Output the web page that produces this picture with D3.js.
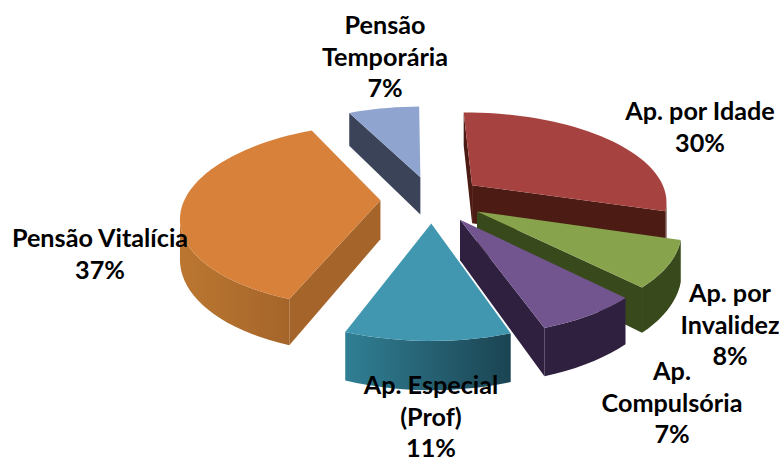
<!DOCTYPE html>
<html><head><meta charset="utf-8">
<script src="https://cdnjs.cloudflare.com/ajax/libs/d3/7.8.5/d3.min.js"></script>
<style>html,body{margin:0;background:#fff}svg{display:block}text{font-family:Lato,Carlito,sans-serif;font-weight:700;fill:#000;font-size:25.2px;text-anchor:middle;dominant-baseline:central}</style>
</head><body><svg id="c" width="779" height="462"><defs id="defs"></defs></svg>
<script>
const categories = ["Ap. por Idade","Ap. por Invalidez","Ap. Compulsória","Ap. Especial (Prof)","Pensão Vitalícia","Pensão Temporária"];
const values = [30,8,7,11,37,7];
const labelLines = [["Ap. por Idade","30%"],["Ap. por","Invalidez","8%"],["Ap.","Compulsória","7%"],["Ap. Especial","(Prof)","11%"],["Pensão Vitalícia","37%"],["Pensão","Temporária","7%"]];

const topColors = ["#a64340","#87a34c","#72558e","#4197b0","#d8813a","#8fa5cf"];
const sideColors = ["#4c1b14","#384a1c","#2f2040","#2a6578","#a5652a","#3b4358"];
const wallLeft = ["#4c1b14","#384a1c","#2f2040","#307f94","#bb7731","#3b4358"];
const wallRight = ["#4c1b14","#384a1c","#2f2040","#1b4452","#a5652a","#3b4358"];
const labelAnchors = [[700,110],[730,292],[672,370],[431,384],[100,237],[385,24]];

const cx=432,cy=199,R=190,explode=50,tilt=0.468,dist=1150,thick=39,lineH=31.7,xScale=1.03,rot=-1*Math.PI/180;
const svg=d3.select("#c"),defs=d3.select("#defs");
function proj(x,y,z){const k=dist/(dist-y);return [cx+x*k*xScale,cy+(y*tilt-z)*k];}
const line=d3.line();
const area=p=>{let a=0;p.forEach((q,i)=>{const r=p[(i+1)%p.length];a+=q[0]*r[1]-r[0]*q[1]});return a/2};

const arcs=d3.pie().sort(null).startAngle(rot).endAngle(2*Math.PI+rot)(values);
const slices=arcs.map((a,i)=>{
  const mid=(a.startAngle+a.endAngle)/2;
  const ox=Math.sin(mid)*explode, oy=-Math.cos(mid)*explode;
  const n=Math.max(6,Math.ceil((a.endAngle-a.startAngle)/0.05));
  const rim=d3.range(n+1).map(j=>{const t=a.startAngle+(a.endAngle-a.startAngle)*j/n;return [ox+Math.sin(t)*R,oy-Math.cos(t)*R];});
  return {i,ox,oy,rim};
}).sort((p,q)=>p.oy-q.oy);

slices.forEach(s=>{
  const g=svg.append("g");
  const apexT=proj(s.ox,s.oy,0),apexB=proj(s.ox,s.oy,-thick);
  const T=s.rim.map(p=>proj(p[0],p[1],0)),B=s.rim.map(p=>proj(p[0],p[1],-thick));
  const L=T.length-1;
  [[apexT,T[0],B[0],apexB],[T[L],apexT,apexB,B[L]]].filter(p=>area(p)<0).forEach(p=>{
    g.append("path").attr("d",line(p)+"Z").attr("fill",sideColors[s.i]);
  });
  // visible part of the rim wall, as one polygon with a left-to-right gradient
  const vis=d3.range(L).filter(j=>area([T[j],T[j+1],B[j+1],B[j]])<0);
  if(vis.length){
    const a=vis[0],b=vis[vis.length-1]+1;
    const top=T.slice(a,b+1),bot=B.slice(a,b+1).reverse();
    const poly=[...top,...bot];
    const ext=d3.extent(poly,p=>p[0]);
    const id="w"+s.i;
    const lg=defs.append("linearGradient").attr("id",id).attr("gradientUnits","userSpaceOnUse")
      .attr("x1",ext[0]).attr("x2",ext[1]).attr("y1",0).attr("y2",0);
    lg.append("stop").attr("offset",0).attr("stop-color",wallLeft[s.i]);
    lg.append("stop").attr("offset",1).attr("stop-color",wallRight[s.i]);
    g.append("path").attr("d",line(poly)+"Z").attr("fill",`url(#${id})`);
  }
  g.append("path").attr("d",line([apexT,...T])+"Z").attr("fill",topColors[s.i]);
});
labelLines.forEach((ls,i)=>{
  const t=svg.append("text");
  ls.forEach((l,j)=>t.append("tspan").attr("x",labelAnchors[i][0]).attr("y",labelAnchors[i][1]+j*lineH).text(l));
});
</script></body></html>
